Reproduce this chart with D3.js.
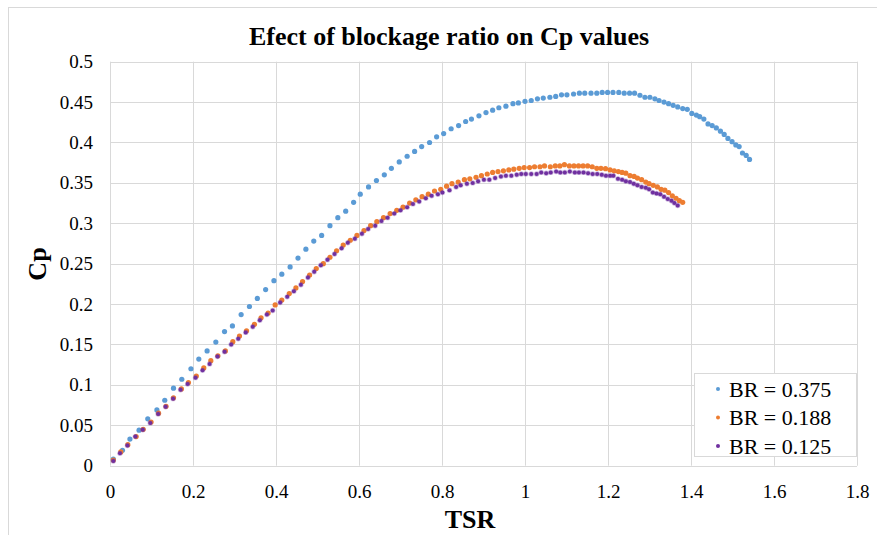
<!DOCTYPE html>
<html>
<head>
<meta charset="utf-8">
<script src="https://cdn.jsdelivr.net/npm/d3@7"></script>
<style>
  html, body { margin: 0; padding: 0; background: #fff; }
  svg { display: block; }
  svg text { font-family: "Liberation Serif", "Times New Roman", serif !important; fill: #000; }
</style>
</head>
<body>
<div id="chart"></div>
<script>
// ---- data ----
const seriesNames = ["BR = 0.375", "BR = 0.188", "BR = 0.125"];
const seriesColors = ["#5B9BD5", "#ED7D31", "#7030A0"];
const xTicks = [0, 0.2, 0.4, 0.6, 0.8, 1, 1.2, 1.4, 1.6, 1.8];
const yTicks = [0, 0.05, 0.1, 0.15, 0.2, 0.25, 0.3, 0.35, 0.4, 0.45, 0.5];

const tsrBlue = [0.008,0.030,0.048,0.070,0.091,0.113,0.132,0.153,0.173,0.195,0.214,0.234,0.255,0.276,0.295,0.316,0.336,0.355,0.375,0.395,0.414,0.434,0.453,0.472,0.491,0.510,0.530,0.549,0.568,0.587,0.603,0.623,0.642,0.661,0.678,0.697,0.716,0.734,0.751,0.770,0.787,0.804,0.822,0.840,0.857,0.871,0.889,0.906,0.922,0.937,0.954,0.971,0.984,1.000,1.015,1.030,1.044,1.060,1.074,1.088,1.101,1.117,1.131,1.144,1.159,1.173,1.186,1.199,1.212,1.226,1.239,1.252,1.264,1.277,1.289,1.301,1.313,1.323,1.335,1.346,1.357,1.368,1.380,1.391,1.402,1.413,1.421,1.431,1.441,1.451,1.461,1.471,1.480,1.489,1.499,1.508,1.516,1.524,1.533,1.541];
const cpBlue = [0.0083,0.019,0.033,0.044,0.058,0.069,0.081,0.096,0.107,0.120,0.132,0.142,0.153,0.166,0.173,0.187,0.197,0.207,0.218,0.229,0.237,0.246,0.257,0.268,0.278,0.285,0.297,0.307,0.315,0.326,0.336,0.345,0.353,0.360,0.368,0.376,0.383,0.389,0.395,0.400,0.407,0.411,0.417,0.421,0.426,0.429,0.433,0.437,0.440,0.443,0.445,0.448,0.449,0.451,0.452,0.454,0.455,0.456,0.457,0.459,0.459,0.460,0.461,0.461,0.461,0.461,0.462,0.462,0.462,0.462,0.461,0.461,0.461,0.4585,0.456,0.456,0.454,0.452,0.450,0.448,0.446,0.444,0.442,0.441,0.436,0.434,0.432,0.429,0.423,0.421,0.418,0.414,0.410,0.405,0.401,0.397,0.395,0.387,0.384,0.379];

const tsrOrange = [0.008,0.026,0.043,0.063,0.080,0.099,0.117,0.135,0.153,0.172,0.189,0.208,0.226,0.243,0.260,0.278,0.296,0.312,0.329,0.348,0.364,0.381,0.398,0.414,0.432,0.448,0.464,0.481,0.497,0.514,0.530,0.546,0.562,0.579,0.595,0.612,0.628,0.643,0.659,0.675,0.691,0.706,0.722,0.737,0.752,0.767,0.782,0.797,0.811,0.824,0.839,0.854,0.867,0.882,0.895,0.909,0.922,0.935,0.948,0.961,0.973,0.986,0.998,1.011,1.023,1.036,1.047,1.061,1.073,1.084,1.095,1.107,1.118,1.129,1.140,1.151,1.162,1.173,1.183,1.194,1.205,1.215,1.225,1.234,1.243,1.253,1.263,1.271,1.281,1.291,1.299,1.309,1.319,1.328,1.337,1.346,1.355,1.364,1.372,1.380];
const cpOrange = [0.007,0.017,0.026,0.036,0.045,0.054,0.065,0.0735,0.084,0.095,0.103,0.111,0.121,0.130,0.136,0.142,0.1535,0.1605,0.167,0.175,0.183,0.189,0.199,0.205,0.213,0.220,0.228,0.236,0.244,0.250,0.258,0.266,0.273,0.279,0.285,0.291,0.297,0.302,0.307,0.312,0.316,0.320,0.325,0.329,0.333,0.336,0.340,0.342,0.346,0.349,0.351,0.354,0.355,0.357,0.359,0.361,0.363,0.364,0.365,0.366,0.367,0.368,0.369,0.369,0.370,0.370,0.371,0.370,0.371,0.371,0.3725,0.371,0.371,0.371,0.371,0.371,0.370,0.368,0.368,0.3676,0.366,0.365,0.364,0.363,0.362,0.359,0.358,0.356,0.354,0.351,0.349,0.347,0.345,0.342,0.341,0.338,0.334,0.331,0.328,0.326];

const tsrPurple = [0.008,0.024,0.042,0.061,0.079,0.097,0.116,0.134,0.152,0.170,0.187,0.206,0.223,0.240,0.259,0.276,0.292,0.309,0.327,0.344,0.361,0.378,0.392,0.410,0.427,0.443,0.460,0.477,0.492,0.508,0.524,0.541,0.558,0.573,0.590,0.607,0.622,0.639,0.654,0.669,0.685,0.700,0.716,0.730,0.745,0.761,0.775,0.790,0.801,0.818,0.834,0.845,0.860,0.874,0.887,0.901,0.914,0.928,0.942,0.954,0.967,0.980,0.991,1.002,1.015,1.028,1.039,1.051,1.062,1.075,1.085,1.096,1.108,1.120,1.130,1.141,1.152,1.163,1.174,1.185,1.195,1.205,1.213,1.224,1.234,1.243,1.253,1.262,1.271,1.281,1.291,1.299,1.308,1.317,1.326,1.335,1.344,1.353,1.360,1.368];
const cpPurple = [0.0058,0.0153,0.025,0.036,0.0445,0.053,0.064,0.073,0.083,0.094,0.101,0.109,0.118,0.126,0.135,0.141,0.150,0.157,0.165,0.172,0.180,0.187,0.192,0.202,0.209,0.216,0.224,0.233,0.240,0.248,0.255,0.262,0.269,0.276,0.281,0.287,0.293,0.297,0.303,0.307,0.312,0.316,0.320,0.324,0.327,0.331,0.334,0.336,0.338,0.341,0.345,0.347,0.349,0.350,0.352,0.354,0.354,0.356,0.358,0.359,0.359,0.360,0.361,0.361,0.361,0.361,0.363,0.362,0.363,0.364,0.363,0.363,0.364,0.363,0.363,0.363,0.362,0.361,0.361,0.360,0.359,0.359,0.359,0.355,0.354,0.352,0.351,0.349,0.347,0.345,0.344,0.342,0.338,0.337,0.336,0.333,0.330,0.328,0.325,0.322];

const titleText = "Efect of blockage ratio  on Cp values";
const xLabel = "TSR";
const yLabel = "Cp";

// ---- layout ----
const W = 877, H = 535;
const plot = { left: 110, right: 857, top: 61.7, bottom: 465.7 };
const serif = '"Liberation Serif", "Times New Roman", serif';

const svg = d3.select("#chart").append("svg").attr("width", W).attr("height", H);

// chart frame
svg.append("rect").attr("x", 8.5).attr("y", 7.5).attr("width", W + 10).attr("height", H + 10)
  .attr("fill", "#fff").attr("stroke", "#D9D9D9").attr("stroke-width", 1);

const x = d3.scaleLinear().domain([0, 1.8]).range([plot.left, plot.right]);
const y = d3.scaleLinear().domain([0, 0.5]).range([plot.bottom, plot.top]);

// gridlines
const grid = svg.append("g");
grid.selectAll("line.v").data(xTicks).join("line")
  .attr("x1", d => Math.round(x(d)) + 0.5).attr("x2", d => Math.round(x(d)) + 0.5)
  .attr("y1", plot.top).attr("y2", plot.bottom)
  .attr("stroke", "#D9D9D9").attr("stroke-width", 1);
grid.selectAll("line.h").data(yTicks).join("line")
  .attr("y1", d => Math.round(y(d)) + 0.5).attr("y2", d => Math.round(y(d)) + 0.5)
  .attr("x1", plot.left).attr("x2", plot.right)
  .attr("stroke", "#D9D9D9").attr("stroke-width", 1);

// axes via d3 axis generators (labels only, lines hidden)
const fmt = d => String(+d.toFixed(2));
const xAxis = svg.append("g").attr("transform", `translate(0,${plot.bottom})`)
  .call(d3.axisBottom(x).tickValues(xTicks).tickFormat(fmt).tickSize(0).tickPadding(19));
const yAxis = svg.append("g").attr("transform", `translate(${plot.left},0)`)
  .call(d3.axisLeft(y).tickValues(yTicks).tickFormat(fmt).tickSize(0).tickPadding(17));
[xAxis, yAxis].forEach(a => {
  a.attr("font-family", null).attr("font-size", null);
  a.select(".domain").remove();
  a.selectAll("text").style("font-family", serif).style("font-size", "19px").attr("fill", "#000");
});

// series
const series = [
  { tsr: tsrBlue, cp: cpBlue },
  { tsr: tsrOrange, cp: cpOrange },
  { tsr: tsrPurple, cp: cpPurple }
];
series.forEach((s, i) => {
  const pts = s.tsr.map((t, j) => [t, s.cp[j]]);
  const g = svg.append("g");
  g.selectAll("circle").data(pts).join("circle")
    .attr("cx", d => x(d[0])).attr("cy", d => y(d[1]))
    .attr("r", i === 2 ? 2.0 : 2.6)
    .attr("fill", seriesColors[i])
    .attr("stroke", i === 2 ? "rgba(112,48,160,0.35)" : "none")
    .attr("stroke-width", i === 2 ? 1.4 : 0);
});

// title
svg.append("text").attr("x", 449).attr("y", 45).attr("text-anchor", "middle")
  .style("font-family", serif).attr("font-size", 26).attr("font-weight", "bold").text(titleText);

// axis titles
svg.append("text").attr("x", 470).attr("y", 528).attr("text-anchor", "middle")
  .style("font-family", serif).attr("font-size", 26).attr("font-weight", "bold").text(xLabel);
svg.append("text").attr("transform", "translate(46,264) rotate(-90)").attr("text-anchor", "middle")
  .style("font-family", serif).attr("font-size", 26).attr("font-weight", "bold").text(yLabel);

// legend
const lg = svg.append("g");
lg.append("rect").attr("x", 694.5).attr("y", 373.5).attr("width", 162).attr("height", 83)
  .attr("fill", "#fff").attr("stroke", "#D9D9D9");
seriesNames.forEach((name, i) => {
  const cy = 389 + i * 28.5;
  lg.append("circle").attr("cx", 718).attr("cy", cy).attr("r", 2)
    .attr("fill", seriesColors[i]);
  lg.append("text").attr("x", 729).attr("y", cy + 7.5)
    .style("font-family", serif).attr("font-size", 22).text(name);
});
</script>
</body>
</html>
